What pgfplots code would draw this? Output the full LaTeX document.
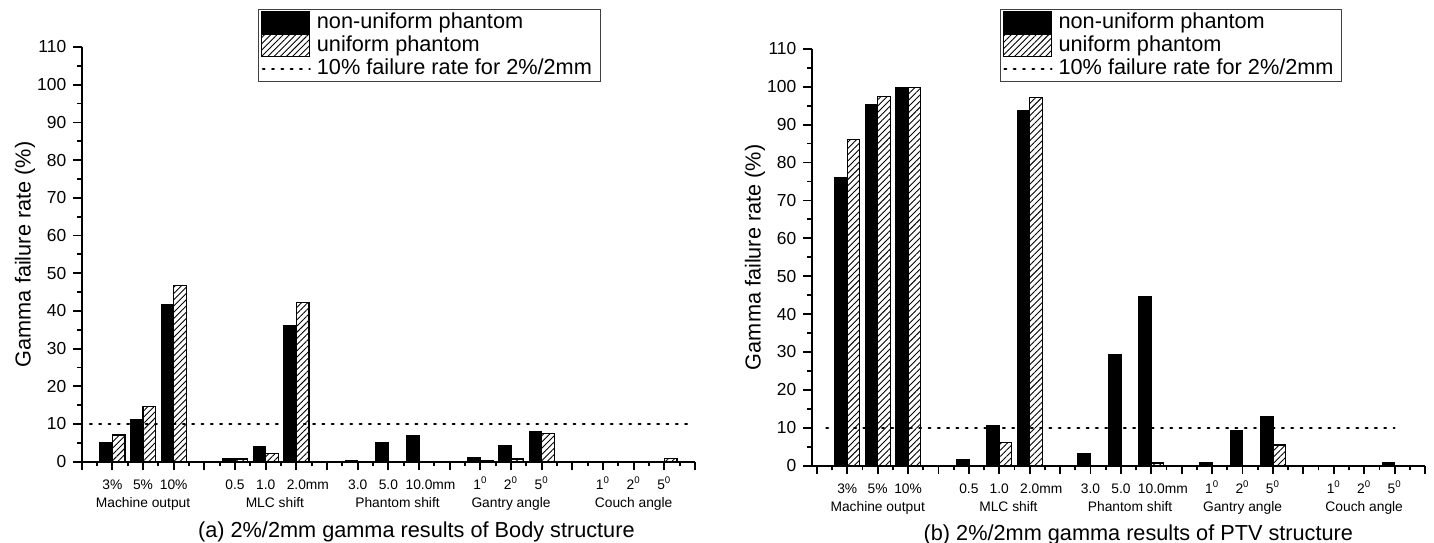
\documentclass[border=0pt]{standalone}
\usepackage{fontspec}
\setmainfont{Liberation Sans}
\usepackage{pgfplots}
\pgfplotsset{compat=1.18}
\usetikzlibrary{patterns.meta}

\newcommand{\dg}{\textsuperscript{0}}
\pgfplotsset{
  gstyle/.style={
    scale only axis,
    width=306.65pt,
    xmax=20, ymin=0, ymax=110,
    enlargelimits=false,
    axis lines=left,
    axis line style={-, line width=1pt, black},
    tick align=outside,
    tick style={line width=0.9pt, black},
    major tick length=4.2pt, minor tick length=2.3pt,
    xtick={0,...,20}, minor x tick num=1,
    ytick={0,10,...,110}, minor y tick num=1,
    xticklabels={,3\%,5\%,10\%,,0.5,1.0,2.0\rlap{mm},,3.0,5.0,10.0\rlap{mm},,1\dg,2\dg,5\dg,,1\dg,2\dg,5\dg,},
    x tick label style={font=\fontsize{6.9}{8}\selectfont, anchor=base, inner sep=0pt, yshift=-9.5pt},
    y tick label style={font=\fontsize{8.7}{10}\selectfont},
    /pgf/number format/assume math mode=true,
    extra x ticks={2,6.3,10.3,14,18},
    extra x tick labels={Machine output,MLC shift,Phantom shift,Gantry angle,Couch angle},
    extra x tick style={major tick length=0pt, tick style={draw=none}, tick label style={yshift=-13.6pt}},
    ylabel={Gamma failure rate (\%)},
    ylabel style={font=\fontsize{10.85}{12}\selectfont, at={(axis description cs:-0.0924,0.5)}, anchor=center, rotate=0},
    xlabel style={font=\fontsize{10.85}{12}\selectfont, anchor=center},
    legend cell align=left,
    legend style={anchor=north west, draw=black!75, line width=0.5pt,
      font=\fontsize{10.85}{12}\selectfont,
      inner xsep=1.2pt, inner ysep=0.6pt, row sep=0pt,
      nodes={inner xsep=3pt, inner ysep=0.5pt, text height=8.2pt, text depth=2.4pt}},
  },
  nonuni/.style={ybar, bar width=0.41, bar shift=-0.205, fill=black, draw=black, line width=0.6pt,
    legend image code/.code={\draw[##1, bar shift=0pt] (0pt,-5.5pt) rectangle (24pt,5.5pt);}},
  uni/.style={ybar, bar width=0.41, bar shift=0.205, draw=black, line width=0.6pt,
    pattern={Lines[angle=45, distance=2.2pt, line width=0.45pt]},
    legend image code/.code={\draw[##1, bar shift=0pt] (0pt,-5.5pt) rectangle (24pt,5.5pt);}},
  limline/.style={black, line width=1.1pt, dash pattern=on 0.9pt off 3.75pt, line cap=round,
    legend image code/.code={\draw[##1] (0.5pt,0pt) -- (24pt,0pt);}},
}

\begin{document}
\begin{tikzpicture}
\path[use as bounding box] (0pt,0pt) rectangle (717pt,271pt);

\begin{axis}[gstyle, xmin=0, height=207.35pt,
  at={(40.85pt,40.15pt)}, anchor=south west,
  xlabel={(a) 2\%/2mm gamma results of Body structure},
  xlabel style={at={(axis description cs:0.5457,-0.169)}},
  legend style={at={(0.288,1.091)}}]
\addplot[nonuni] coordinates {(1,5.2) (2,11.2) (3,41.8) (5,0.9) (6,4.1) (7,36.0) (9,0.35) (10,5.1) (11,6.9) (13,1.15) (14,4.2) (15,8.0)};
\addlegendentry{non-uniform phantom}
\addplot[uni] coordinates {(1,7.1) (2,14.7) (3,46.7) (5,0.7) (6,2.1) (7,42.3) (13,0.35) (14,0.7) (15,7.5) (19,0.8)};
\addlegendentry{uniform phantom}
\addplot[limline] coordinates {(0.27,10) (19.8,10)};
\addlegendentry{10\% failure rate for 2\%/2mm}
\end{axis}

\begin{axis}[gstyle, xmin=-0.17, height=208.45pt,
  at={(405.85pt,38.15pt)}, anchor=south west,
  xlabel={(b) 2\%/2mm gamma results of PTV structure},
  xlabel style={at={(axis description cs:0.5326,-0.165)}},
  legend style={at={(0.307,1.095)}}]
\addplot[nonuni] coordinates {(1,76.1) (2,95.4) (3,99.7) (5,1.5) (6,10.6) (7,93.8) (9,3.25) (10,29.3) (11,44.6) (13,0.8) (14,9.2) (15,12.9) (19,0.9)};
\addlegendentry{non-uniform phantom}
\addplot[uni] coordinates {(1,86.1) (2,97.4) (3,99.8) (6,6.2) (7,97.1) (11,0.7) (15,5.45)};
\addlegendentry{uniform phantom}
\addplot[limline] coordinates {(0.31,10) (19.0,10)};
\addlegendentry{10\% failure rate for 2\%/2mm}
\end{axis}
\end{tikzpicture}
\end{document}
